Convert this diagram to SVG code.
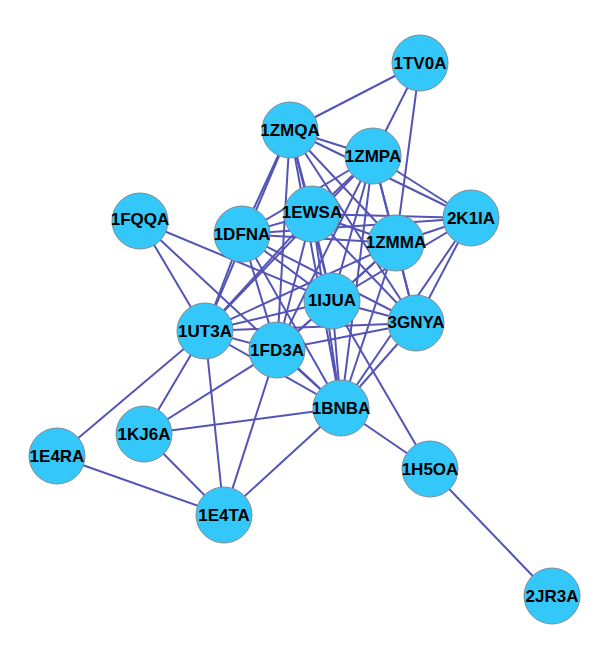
<svg xmlns="http://www.w3.org/2000/svg" width="613" height="657" viewBox="0 0 613 657">
<style>
.e{stroke:#5454b6;stroke-width:2;fill:none}
.n circle{fill:#33c7fa;stroke:#7d8a96;stroke-width:1}
.n text{font-family:"Liberation Sans",Arial,sans-serif;font-weight:bold;font-size:17px;fill:#000;text-anchor:middle;dominant-baseline:central}
</style>
<rect width="613" height="657" fill="#fff"/>
<g id="edges" class="e">
<line x1="420" y1="63" x2="290" y2="130"/>
<line x1="420" y1="63" x2="373" y2="156"/>
<line x1="420" y1="63" x2="396" y2="243"/>
<line x1="290" y1="130" x2="373" y2="156"/>
<line x1="290" y1="130" x2="471" y2="218"/>
<line x1="290" y1="130" x2="396" y2="243"/>
<line x1="290" y1="130" x2="416" y2="323"/>
<line x1="290" y1="130" x2="332" y2="301"/>
<line x1="290" y1="130" x2="312" y2="214"/>
<line x1="290" y1="130" x2="242" y2="234"/>
<line x1="290" y1="130" x2="277" y2="350"/>
<line x1="290" y1="130" x2="341" y2="408"/>
<line x1="290" y1="130" x2="205" y2="331"/>
<line x1="373" y1="156" x2="471" y2="218"/>
<line x1="373" y1="156" x2="396" y2="243"/>
<line x1="373" y1="156" x2="416" y2="323"/>
<line x1="373" y1="156" x2="332" y2="301"/>
<line x1="373" y1="156" x2="312" y2="214"/>
<line x1="373" y1="156" x2="242" y2="234"/>
<line x1="373" y1="156" x2="205" y2="331"/>
<line x1="373" y1="156" x2="277" y2="350"/>
<line x1="373" y1="156" x2="341" y2="408"/>
<line x1="312" y1="214" x2="242" y2="234"/>
<line x1="312" y1="214" x2="471" y2="218"/>
<line x1="312" y1="214" x2="396" y2="243"/>
<line x1="312" y1="214" x2="332" y2="301"/>
<line x1="312" y1="214" x2="416" y2="323"/>
<line x1="312" y1="214" x2="205" y2="331"/>
<line x1="312" y1="214" x2="277" y2="350"/>
<line x1="312" y1="214" x2="341" y2="408"/>
<line x1="242" y1="234" x2="471" y2="218"/>
<line x1="242" y1="234" x2="396" y2="243"/>
<line x1="242" y1="234" x2="332" y2="301"/>
<line x1="242" y1="234" x2="416" y2="323"/>
<line x1="242" y1="234" x2="205" y2="331"/>
<line x1="242" y1="234" x2="277" y2="350"/>
<line x1="242" y1="234" x2="341" y2="408"/>
<line x1="471" y1="218" x2="396" y2="243"/>
<line x1="471" y1="218" x2="416" y2="323"/>
<line x1="471" y1="218" x2="341" y2="408"/>
<line x1="471" y1="218" x2="332" y2="301"/>
<line x1="396" y1="243" x2="416" y2="323"/>
<line x1="396" y1="243" x2="332" y2="301"/>
<line x1="396" y1="243" x2="205" y2="331"/>
<line x1="396" y1="243" x2="277" y2="350"/>
<line x1="396" y1="243" x2="341" y2="408"/>
<line x1="332" y1="301" x2="416" y2="323"/>
<line x1="332" y1="301" x2="205" y2="331"/>
<line x1="332" y1="301" x2="277" y2="350"/>
<line x1="332" y1="301" x2="341" y2="408"/>
<line x1="332" y1="301" x2="430" y2="469"/>
<line x1="332" y1="301" x2="140" y2="221"/>
<line x1="416" y1="323" x2="205" y2="331"/>
<line x1="416" y1="323" x2="277" y2="350"/>
<line x1="416" y1="323" x2="341" y2="408"/>
<line x1="205" y1="331" x2="140" y2="221"/>
<line x1="205" y1="331" x2="57" y2="456"/>
<line x1="205" y1="331" x2="144" y2="434"/>
<line x1="205" y1="331" x2="224" y2="515"/>
<line x1="205" y1="331" x2="277" y2="350"/>
<line x1="205" y1="331" x2="341" y2="408"/>
<line x1="277" y1="350" x2="144" y2="434"/>
<line x1="277" y1="350" x2="224" y2="515"/>
<line x1="277" y1="350" x2="341" y2="408"/>
<line x1="140" y1="221" x2="341" y2="408"/>
<line x1="341" y1="408" x2="144" y2="434"/>
<line x1="341" y1="408" x2="224" y2="515"/>
<line x1="341" y1="408" x2="430" y2="469"/>
<line x1="430" y1="469" x2="552" y2="596"/>
<line x1="57" y1="456" x2="224" y2="515"/>
<line x1="144" y1="434" x2="224" y2="515"/>
</g>
<g id="n-1TV0A" class="n"><circle cx="420" cy="63" r="28"/><text x="420" y="63">1TV0A</text></g>
<g id="n-1ZMQA" class="n"><circle cx="290" cy="130" r="28"/><text x="290" y="130">1ZMQA</text></g>
<g id="n-1ZMPA" class="n"><circle cx="373" cy="156" r="28"/><text x="373" y="156">1ZMPA</text></g>
<g id="n-1FQQA" class="n"><circle cx="140" cy="221" r="28"/><text x="140" y="219">1FQQA</text></g>
<g id="n-1DFNA" class="n"><circle cx="242" cy="234" r="28"/><text x="242" y="234">1DFNA</text></g>
<g id="n-1EWSA" class="n"><circle cx="312" cy="214" r="28"/><text x="312" y="212">1EWSA</text></g>
<g id="n-2K1IA" class="n"><circle cx="471" cy="218" r="28"/><text x="471" y="218">2K1IA</text></g>
<g id="n-1ZMMA" class="n"><circle cx="396" cy="243" r="28"/><text x="396" y="242">1ZMMA</text></g>
<g id="n-1IJUA" class="n"><circle cx="332" cy="301" r="28"/><text x="332" y="300">1IJUA</text></g>
<g id="n-3GNYA" class="n"><circle cx="416" cy="323" r="28"/><text x="416" y="322">3GNYA</text></g>
<g id="n-1UT3A" class="n"><circle cx="205" cy="331" r="28"/><text x="205" y="331">1UT3A</text></g>
<g id="n-1FD3A" class="n"><circle cx="277" cy="350" r="28"/><text x="277" y="350">1FD3A</text></g>
<g id="n-1BNBA" class="n"><circle cx="341" cy="408" r="28"/><text x="341" y="408">1BNBA</text></g>
<g id="n-1E4RA" class="n"><circle cx="57" cy="456" r="28"/><text x="57" y="456">1E4RA</text></g>
<g id="n-1KJ6A" class="n"><circle cx="144" cy="434" r="28"/><text x="144" y="434">1KJ6A</text></g>
<g id="n-1H5OA" class="n"><circle cx="430" cy="469" r="28"/><text x="430" y="469">1H5OA</text></g>
<g id="n-1E4TA" class="n"><circle cx="224" cy="515" r="28"/><text x="224" y="515">1E4TA</text></g>
<g id="n-2JR3A" class="n"><circle cx="552" cy="596" r="28"/><text x="552" y="596">2JR3A</text></g>
</svg>
